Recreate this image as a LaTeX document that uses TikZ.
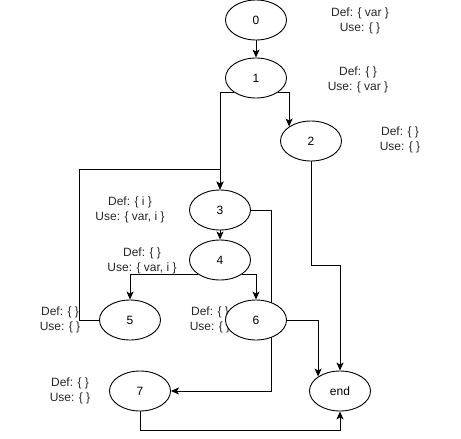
\documentclass[tikz,border=0pt]{standalone}
\usepackage{fontspec}
\setmainfont{Liberation Sans}
\usetikzlibrary{shapes.geometric,arrows.meta,calc,backgrounds}

\tikzset{
  block/.style={ellipse, draw, fill=white, line width=0.9pt,
    minimum width=61pt, minimum height=40pt, inner sep=0pt, font=\fontsize{12}{14}\selectfont},
  info/.style={align=center, inner sep=0pt, font=\fontsize{12}{14.5}\selectfont, text=black!85},
  flow/.style={draw, line width=0.9pt, -{Stealth[length=8pt,width=7pt,inset=2pt]}},
}

\begin{document}
\begin{tikzpicture}[x=1pt, y=-1pt]
  \useasboundingbox (0,0) rectangle (461,439);

  % def/use sets beside each block
  \node[info] (d0) at (360,21)  {Def: \{ var \}\\Use: \{ \}};
  \node[info] (d1) at (358,80)  {Def: \{ \}\\Use: \{ var \}};
  \node[info] (d2) at (400,140) {Def: \{ \}\\Use: \{ \}};
  \node[info] (d3) at (130,210) {Def: \{ i \}\\Use: \{ var, i \}};
  \node[info] (d4) at (142,261) {Def: \{ \}\\Use: \{ var, i \}};
  \node[info] (d5) at (60,320)  {Def: \{ \}\\Use: \{ \}};
  \node[info] (d6) at (210,320) {Def: \{ \}\\Use: \{ \}};
  \node[info] (d7) at (70,391)  {Def: \{ \}\\Use: \{ \}};

  % basic blocks
  \node[block] (n0) at (256,20)  {0};
  \node[block] (n1) at (256,78)  {1};
  \node[block] (n2) at (311,141) {2};
  \node[block] (n3) at (220,210) {3};
  \node[block] (n4) at (220,260) {4};
  \node[block] (n5) at (130,320) {5};
  \node[block] (n6) at (256,320) {6};
  \node[block] (n7) at (140,391) {7};
  \node[block] (nend) at (340,391) {end};

  % control-flow edges, kept behind the blocks
  \begin{scope}[on background layer]
    \path[flow] (n0.south) -- (n1.north);
    \path[flow] (n1.south east) -| (n2.north west);
    \path[flow] (n1.south west) -| (n3.north);
    \path[flow] (n5.west) -- ++(-20,0) |- ($(n3.north)+(0,-20)$) -- (n3.north);
    \path[flow] (n3.south) -- (n4.north);
    \path[flow] (n3.east) -- ++(20,0) |- (n7.east);
    \path[flow] (n4.south west) -| (n5.north);
    \path[flow] (n4.south east) -| (n6.north);
    \path[flow] (n6.east) -| (nend.north west);
    \path[flow] (n2.south) -- ++(0,104) -| (nend.north);
    \path[flow] (n7.south) -- ++(0,19) -| (nend.south);
  \end{scope}
\end{tikzpicture}
\end{document}
